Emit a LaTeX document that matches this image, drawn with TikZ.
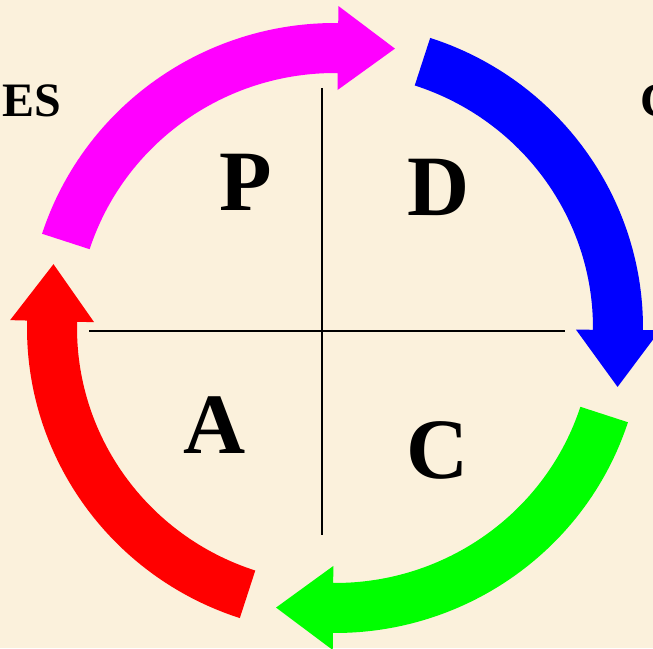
\documentclass[tikz,border=0pt]{standalone}
\usepackage{fontspec}
\setmainfont{Liberation Serif}
\usetikzlibrary{calc}
\definecolor{paper}{RGB}{251,241,220}
\definecolor{pdmag}{RGB}{255,0,255}
\definecolor{pdblue}{RGB}{0,0,255}
\definecolor{pdgreen}{RGB}{0,255,0}
\definecolor{pdred}{RGB}{255,0,0}
\newcommand\cyclearrow[3]{%
  \fill[#1] ($(c)+(#2:308 and 305)$)
    arc[start angle=#2,end angle=#3,x radius=308,y radius=305]
    -- ($(c)+(#3:325 and 322)$)
    -- ($(c)+(#3:283 and 280)+({#3-90}:57)$)
    -- ($(c)+(#3:241 and 238)$)
    -- ($(c)+(#3:258 and 255)$)
    arc[start angle=#3,end angle=#2,x radius=258,y radius=255]
    -- cycle;}
\begin{document}
\begin{tikzpicture}[x=1pt,y=1pt,
  bigletter/.style={inner sep=0pt,font=\fontsize{86}{86}\selectfont\bfseries},
  sideword/.style={inner sep=0pt,font=\fontsize{48}{48}\selectfont\bfseries,anchor=base west},
  axisline/.style={line width=1.6pt,black}]
\useasboundingbox (0,0) rectangle (653,648);
\fill[paper] (0,0) rectangle (653,648);
\clip (0,0) rectangle (653,648);
\coordinate (c) at (335,320);
\cyclearrow{pdmag}{162}{89.4}
\cyclearrow{pdblue}{72}{-0.4}
\cyclearrow{pdgreen}{-18}{-90.4}
\cyclearrow{pdred}{-108}{-181.4}
\coordinate (hl) at (89,317);
\coordinate (hr) at (565,317);
\coordinate (vt) at (322,560);
\coordinate (vb) at (322,113);
\draw[axisline] (hl) -- (hr);
\draw[axisline] (vt) -- (vb);
\node[bigletter] (P) at (246,466) {P};
\node[bigletter] (D) at (439,461) {D};
\node[bigletter] (A) at (215,223) {A};
\node[bigletter] (C) at (438,198) {C};
\node[sideword] (es) at (2,531) {ES};
\node[sideword] (rc) at (640,531) {C};
\end{tikzpicture}
\end{document}
